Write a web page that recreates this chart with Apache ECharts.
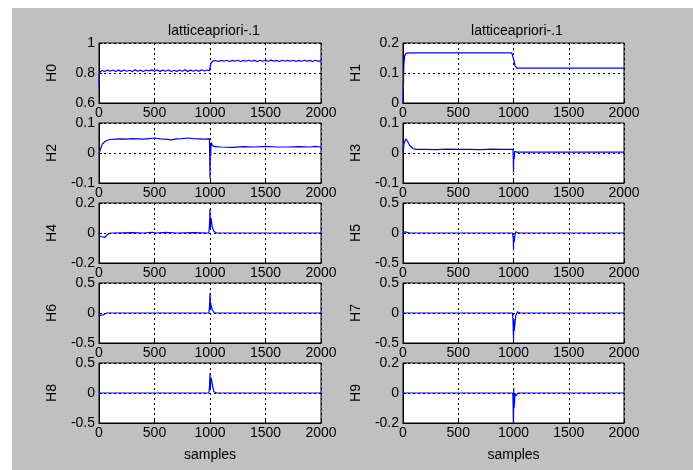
<!DOCTYPE html>
<html>
<head>
<meta charset="utf-8">
<script src="https://cdn.jsdelivr.net/npm/echarts@6/dist/echarts.min.js"></script>
<style>
  body { margin: 0; background: #fff; }
  #bg { position: absolute; left: 12px; top: 8px; width: 681px; height: 462px; background: #c0c0c0; }
  #chart { position: absolute; left: 0; top: 0; width: 693px; height: 470px; }
</style>
</head>
<body>
<div id="bg"></div>
<div id="chart"></div>
<script>
// subplot names and y ranges
const names = ['H0', 'H1', 'H2', 'H3', 'H4', 'H5', 'H6', 'H7', 'H8', 'H9']
const yMin = [0.6, 0, -0.1, -0.1, -0.2, -0.5, -0.5, -0.5, -0.5, -0.2]
const yMax = [1, 0.2, 0.1, 0.1, 0.2, 0.5, 0.5, 0.5, 0.5, 0.2]
const yStep = [0.2, 0.1, 0.1, 0.1, 0.2, 0.5, 0.5, 0.5, 0.5, 0.2]
const xTicks = [0, 500, 1000, 1500, 2000]
const titleText = 'latticeapriori-.1'

// coefficient traces, [sample, value]
const h0 = [[0, 0.71], [3, 0.80], [10, 0.812], [25, 0.818], [50, 0.81], [75, 0.82], [100, 0.812], [125, 0.82],
  [150, 0.81], [175, 0.819], [200, 0.811], [225, 0.82], [250, 0.812], [275, 0.818], [300, 0.81], [325, 0.821],
  [350, 0.812], [375, 0.819], [400, 0.81], [425, 0.82], [450, 0.813], [475, 0.821], [500, 0.812], [525, 0.82],
  [550, 0.811], [575, 0.819], [600, 0.812], [625, 0.82], [650, 0.81], [675, 0.818], [700, 0.811], [725, 0.82],
  [750, 0.812], [775, 0.821], [800, 0.811], [825, 0.819], [850, 0.812], [875, 0.82], [900, 0.811], [925, 0.822],
  [950, 0.813], [975, 0.82], [995, 0.815], [1000, 0.83], [1008, 0.865], [1025, 0.879], [1050, 0.883],
  [1075, 0.877], [1100, 0.884], [1125, 0.878], [1150, 0.885], [1175, 0.877], [1200, 0.884], [1225, 0.878],
  [1250, 0.885], [1275, 0.877], [1300, 0.884], [1325, 0.878], [1350, 0.885], [1375, 0.878], [1400, 0.884],
  [1425, 0.877], [1450, 0.885], [1475, 0.878], [1500, 0.884], [1525, 0.878], [1550, 0.886], [1575, 0.878],
  [1600, 0.884], [1625, 0.877], [1650, 0.885], [1675, 0.878], [1700, 0.884], [1725, 0.878], [1750, 0.885],
  [1775, 0.877], [1800, 0.884], [1825, 0.878], [1850, 0.885], [1875, 0.878], [1900, 0.884], [1925, 0.877],
  [1950, 0.885], [1975, 0.878], [2000, 0.883]]
const h1 = [[0, 0], [4, 0.06], [8, 0.13], [15, 0.158], [30, 0.166], [100, 0.167], [500, 0.167], [985, 0.167],
  [995, 0.164], [1005, 0.14], [1015, 0.123], [1030, 0.116], [1500, 0.116], [2000, 0.116]]
const h2 = [[0, 0], [5, -0.006], [10, 0.01], [30, 0.03], [60, 0.04], [100, 0.045], [150, 0.046], [200, 0.047],
  [250, 0.046], [300, 0.048], [350, 0.047], [400, 0.046], [450, 0.048], [500, 0.05], [550, 0.047], [600, 0.046],
  [650, 0.044], [700, 0.047], [750, 0.048], [800, 0.05], [850, 0.048], [900, 0.047], [950, 0.046], [995, 0.047],
  [1000, -0.085], [1003, 0.03], [1006, -0.01], [1010, 0.035], [1020, 0.026], [1040, 0.021], [1100, 0.02],
  [1200, 0.019], [1300, 0.021], [1400, 0.02], [1500, 0.022], [1600, 0.02], [1700, 0.02], [1800, 0.021],
  [1900, 0.02], [1950, 0.022], [2000, 0.02]]
const h3 = [[0, 0.02], [3, 0.0], [8, 0.03], [25, 0.047], [40, 0.04], [60, 0.025], [90, 0.015], [120, 0.012],
  [200, 0.012], [300, 0.011], [400, 0.013], [500, 0.012], [600, 0.012], [700, 0.011], [800, 0.013], [900, 0.012],
  [995, 0.012], [998, -0.02], [1000, -0.065], [1003, 0.0], [1006, -0.02], [1010, 0.006], [1030, 0.003],
  [1100, 0.003], [1500, 0.003], [2000, 0.003]]
const h4 = [[0, 0], [5, -0.02], [20, -0.032], [50, -0.03], [70, -0.015], [90, -0.003], [120, 0.0], [300, 0.003],
  [400, 0.0], [480, 0.005], [520, 0.0], [600, 0.004], [700, 0.0], [850, 0.002], [990, 0.0], [995, 0.05],
  [1000, 0.16], [1003, 0.03], [1006, 0.08], [1010, 0.1], [1020, 0.04], [1035, 0.01], [1060, 0.0], [2000, 0.0]]
const h5 = [[0, 0], [5, 0.03], [20, 0.02], [60, 0.0], [990, 0.0], [995, -0.05], [998, -0.1], [1000, -0.28],
  [1003, -0.05], [1006, -0.15], [1012, -0.05], [1020, 0.02], [1045, 0.0], [2000, 0]]
const h6 = [[0, 0], [5, -0.04], [40, -0.03], [70, 0.0], [990, 0.0], [995, 0.1], [1000, 0.33], [1003, 0.05],
  [1006, 0.17], [1010, 0.2], [1020, 0.05], [1040, 0.0], [2000, 0]]
const h7 = [[0, 0], [990, 0], [995, -0.1], [1000, -0.45], [1003, -0.1], [1006, -0.3], [1012, -0.2],
  [1020, -0.05], [1035, 0.02], [1060, 0], [2000, 0]]
const h8 = [[0, 0], [990, 0], [995, 0.1], [1000, 0.33], [1003, 0.05], [1006, 0.2], [1012, 0.25], [1020, 0.15],
  [1035, 0.02], [1060, 0], [2000, 0]]
const h9 = [[0, 0], [990, 0], [995, -0.02], [1000, -0.25], [1002, 0.03], [1005, -0.1], [1010, -0.05],
  [1015, 0.0], [1020, -0.02], [1040, 0.0], [2000, 0]]
const traces = [h0, h1, h2, h3, h4, h5, h6, h7, h8, h9]

const font = 'Liberation Sans, Arial, sans-serif'
const grids = []
const xAxes = []
const yAxes = []
const series = []

for (let i = 0; i < 10; i++) {
  const row = Math.floor(i / 2)
  const col = i % 2
  grids.push({
    left: col === 0 ? 99 : 403,
    width: col === 0 ? 222 : 221,
    top: 43 + row * 80,
    height: 60,
    show: true,
    backgroundColor: '#fff',
    borderColor: '#000',
    borderWidth: 1
  })
  xAxes.push({
    gridIndex: i,
    type: 'value',
    min: xTicks[0],
    max: xTicks[xTicks.length - 1],
    interval: 500,
    name: row === 4 ? 'samples' : '',
    nameLocation: 'middle',
    nameGap: 25,
    nameTextStyle: { color: '#000', fontSize: 14, fontFamily: font },
    axisLine: { show: true, onZero: false, lineStyle: { color: '#000' } },
    axisTick: { show: true, inside: true, length: 3, lineStyle: { color: '#000' } },
    axisLabel: { color: '#000', fontSize: 14, fontFamily: font, margin: 3, formatter: v => String(v) },
    splitLine: { show: true, lineStyle: { color: '#000', type: [2, 3], width: 1 } }
  })
  yAxes.push({
    gridIndex: i,
    type: 'value',
    min: yMin[i],
    max: yMax[i],
    interval: yStep[i],
    name: names[i],
    nameLocation: 'middle',
    nameGap: 40,
    nameRotate: 90,
    nameTextStyle: { color: '#000', fontSize: 14, fontFamily: font },
    axisLine: { show: true, lineStyle: { color: '#000' } },
    axisTick: { show: true, inside: true, length: 3, lineStyle: { color: '#000' } },
    axisLabel: { color: '#000', fontSize: 14, fontFamily: font, margin: 4 },
    splitLine: { show: true, lineStyle: { color: '#000', type: [2, 3], width: 1 } }
  })
  series.push({
    type: 'line',
    xAxisIndex: i,
    yAxisIndex: i,
    data: traces[i],
    showSymbol: false,
    clip: true,
    lineStyle: { color: '#0000ff', width: 1.2 },
    itemStyle: { color: '#0000ff' },
    silent: true,
    animation: false
  })
}

const chart = echarts.init(document.getElementById('chart'))
chart.setOption({
  animation: false,
  backgroundColor: 'transparent',
  title: [
    { text: titleText, left: 209, top: 19, textAlign: 'center', textStyle: { color: '#000', fontSize: 14, fontWeight: 'normal', fontFamily: font } },
    { text: titleText, left: 512, top: 19, textAlign: 'center', textStyle: { color: '#000', fontSize: 14, fontWeight: 'normal', fontFamily: font } }
  ],
  grid: grids,
  xAxis: xAxes,
  yAxis: yAxes,
  series: series
})
</script>
</body>
</html>
